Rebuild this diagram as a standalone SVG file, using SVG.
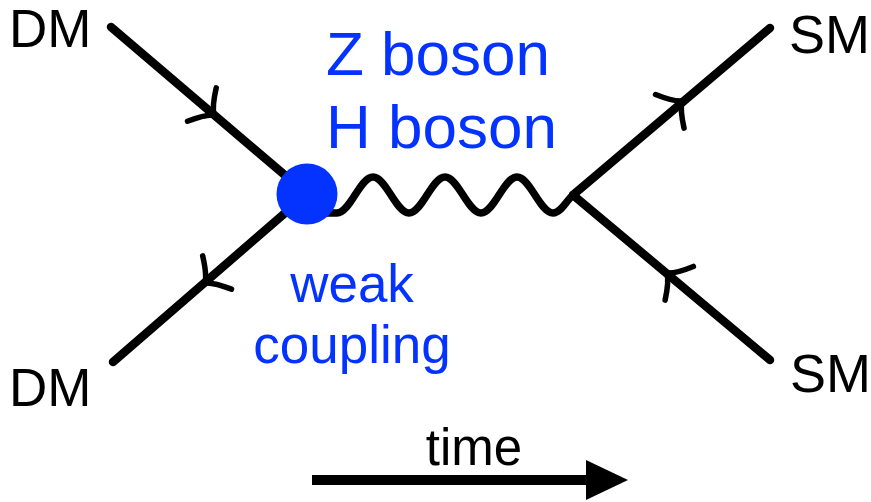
<svg xmlns="http://www.w3.org/2000/svg" xmlns:xlink="http://www.w3.org/1999/xlink" width="871" height="502" viewBox="0 0 871 502">
  <style>
    .lbl { font-family: "Liberation Sans", Arial, Helvetica, sans-serif; fill: #000; }
    .blue { font-family: "Liberation Sans", Arial, Helvetica, sans-serif; fill: #0433FF; }
    .line { stroke: #000; stroke-width: 8.5; stroke-linecap: round; fill: none; }
    .wave { stroke: #000; stroke-width: 7.5; stroke-linecap: round; stroke-linejoin: round; fill: none; }
    .chev { stroke: #000; stroke-width: 5.5; stroke-linecap: round; stroke-linejoin: round; fill: none; }
  </style>
  <defs>
    <path id="chev" class="chev" d="M -16,-22 Q -7,-5 0,0 Q -7,5 -16,22"/>
  </defs>
  <rect width="871" height="502" fill="#fff"/>

  <g id="connectors">
    <line class="line" x1="111" y1="27" x2="307" y2="194"/>
    <line class="line" x1="113" y1="362" x2="307" y2="194"/>
    <line class="line" x1="573" y1="195" x2="770" y2="28"/>
    <line class="line" x1="573" y1="195" x2="770" y2="360"/>
    <path class="wave" d="M 315,213 L 337,213 C 350,213 360,177 373,177 S 396,213 409,213 S 432,177 445,177 S 468,213 481,213 S 504,177 517,177 S 540,213 553,213 C 561,213 566,201 573,195"/>
    <use xlink:href="#chev" href="#chev" transform="translate(214,115) rotate(40.7)"/>
    <use xlink:href="#chev" href="#chev" transform="translate(205,283) rotate(139.1)"/>
    <use xlink:href="#chev" href="#chev" transform="translate(682,101) rotate(-40.3)"/>
    <use xlink:href="#chev" href="#chev" transform="translate(667,273) rotate(-140)"/>
  </g>

  <g id="vertex">
    <circle cx="307" cy="194" r="30.5" fill="#0433FF"/>
  </g>

  <g id="dm-in-top"><text class="lbl" x="9" y="47" font-size="53">DM</text></g>
  <g id="dm-in-bottom"><text class="lbl" x="9" y="406" font-size="53">DM</text></g>
  <g id="sm-out-top"><text class="lbl" x="789" y="53" font-size="54">SM</text></g>
  <g id="sm-out-bottom"><text class="lbl" x="790" y="392" font-size="54">SM</text></g>

  <g id="boson-label">
    <text class="blue" x="326" y="75" font-size="62">Z boson</text>
    <text class="blue" x="326" y="148" font-size="62">H boson</text>
  </g>
  <g id="coupling-label">
    <text class="blue" x="352" y="302" font-size="53" text-anchor="middle">weak</text>
    <text class="blue" x="352" y="363" font-size="53" text-anchor="middle">coupling</text>
  </g>

  <g id="time-axis">
    <text class="lbl" x="474" y="465" font-size="51" text-anchor="middle">time</text>
    <rect x="312" y="475" width="276" height="10" fill="#000"/>
    <polygon points="586,460 628,480 586,500" fill="#000"/>
  </g>
</svg>
